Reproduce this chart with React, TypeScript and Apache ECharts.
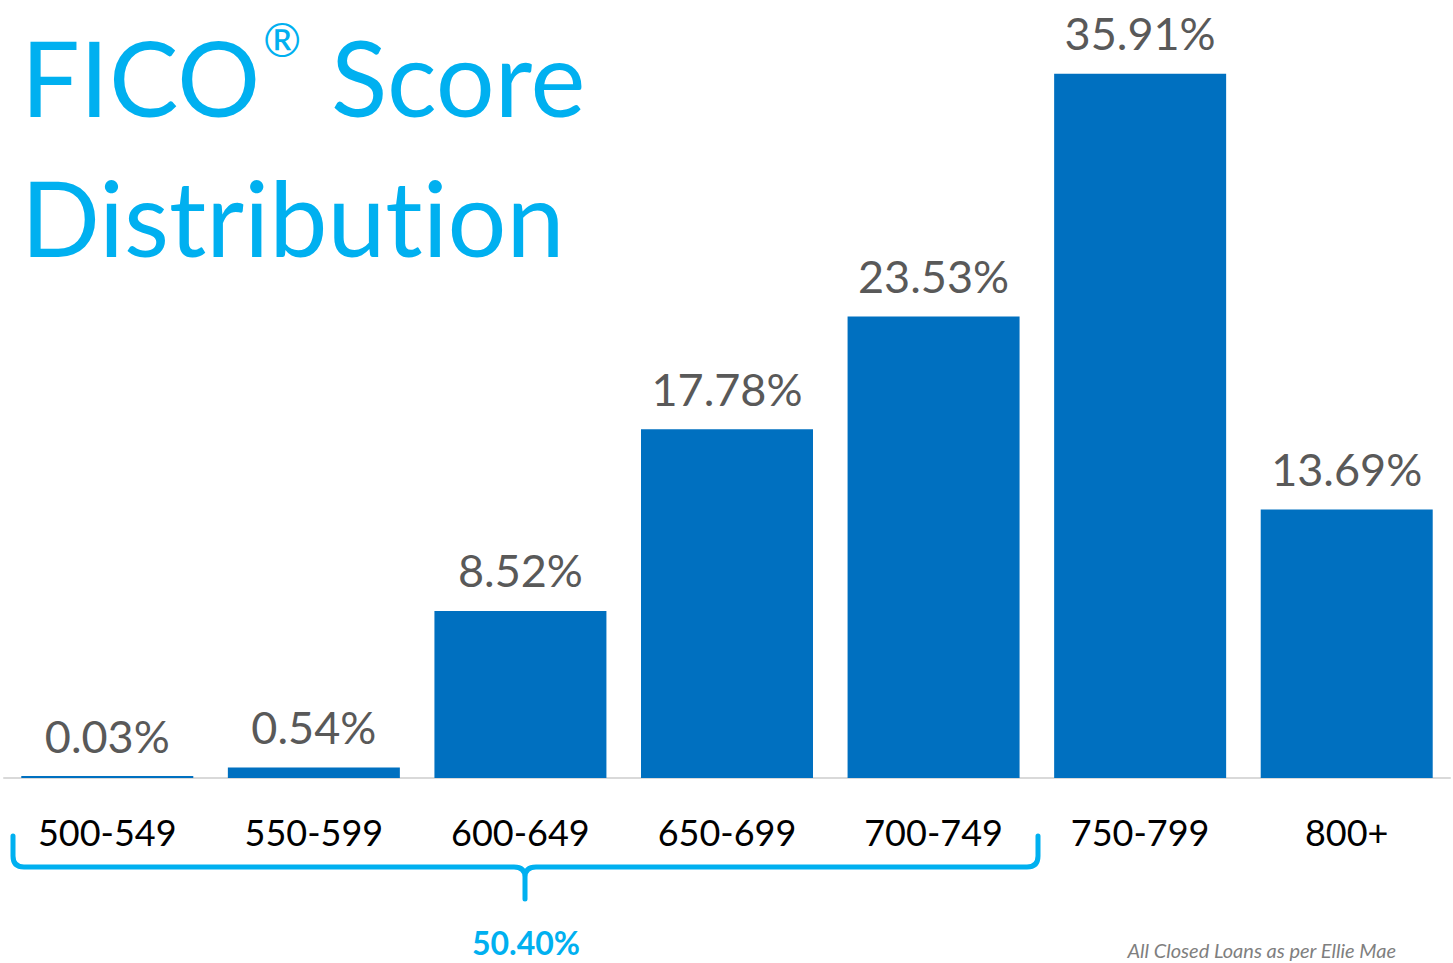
import React, { useEffect, useRef } from "react";
import * as echarts from "echarts";

const categories = ["500-549", "550-599", "600-649", "650-699", "700-749", "750-799", "800+"];
const shares = [0.03, 0.54, 8.52, 17.78, 23.53, 35.91, 13.69];
const titleWord1 = "FICO";
const titleMark = "®";
const titleWord2 = "Score";
const titleLine2 = "Distribution";
const groupTotal = "50.40%";
const sourceNote = "All Closed Loans as per Ellie Mae";

const FONT = "Lato, 'Open Sans', sans-serif";
const TITLE_BLUE = "#00B0F0";
const BAR_BLUE = "#0070C0";

const BRACE_D =
  "M13,836 L13,856 Q13,867 24,867 L514,867 Q525,867 525,877 L525,899 M525,877 Q525,867 536,867 L1027,867 Q1038,867 1038,856 L1038,836";

let registered = false;
function ensureShapes() {
  if (registered) return;
  echarts.graphic.registerShape("brace", echarts.graphic.extendPath(BRACE_D, {}));
  registered = true;
}

export default function App() {
  const ref = useRef<HTMLDivElement>(null);

  useEffect(() => {
    ensureShapes();
    const chart = echarts.init(ref.current!, undefined, { renderer: "svg" });
    chart.setOption({
      animation: false,
      grid: { left: 4, right: 3, top: 72, bottom: 185, containLabel: false },
      xAxis: {
        type: "category",
        data: categories,
        axisTick: { show: false },
        axisLine: { lineStyle: { color: "#D9D9D9", width: 2 } },
        axisLabel: {
          interval: 0,
          fontSize: 36,
          lineHeight: 36,
          color: "#000000",
          fontFamily: FONT,
          margin: 36,
        },
      },
      yAxis: { type: "value", min: 0, max: 36, show: false },
      series: [
        {
          type: "bar",
          data: shares,
          barWidth: 172,
          barMinHeight: 2,
          itemStyle: { color: BAR_BLUE },
          label: {
            show: true,
            position: "top",
            distance: 18,
            fontSize: 45,
            color: "#595959",
            fontFamily: FONT,
            formatter: (p: any) => Number(p.value).toFixed(2) + "%",
          },
        },
      ],
      graphic: [
        {
          type: "text",
          x: 21,
          y: 76,
          style: { text: titleWord1, fontSize: 104, fontFamily: FONT, fill: TITLE_BLUE, verticalAlign: "middle" },
        },
        {
          type: "text",
          x: 282,
          y: 39,
          style: { text: titleMark, fontSize: 46, fontFamily: FONT, fill: TITLE_BLUE, align: "center", verticalAlign: "middle" },
        },
        {
          type: "text",
          x: 331,
          y: 76,
          style: { text: titleWord2, fontSize: 104, fontFamily: FONT, fill: TITLE_BLUE, verticalAlign: "middle" },
        },
        {
          type: "text",
          x: 21,
          y: 216,
          style: { text: titleLine2, fontSize: 104, fontFamily: FONT, fill: TITLE_BLUE, verticalAlign: "middle" },
        },
        {
          type: "brace",
          x: 0,
          y: 0,
          style: { stroke: TITLE_BLUE, lineWidth: 5, fill: "none", lineCap: "round", lineJoin: "round" },
        },
        {
          type: "text",
          x: 526,
          y: 942,
          style: { text: groupTotal, fontSize: 32, fontWeight: "bold", fontFamily: FONT, fill: TITLE_BLUE, align: "center", verticalAlign: "middle" },
        },
        {
          type: "text",
          x: 1396,
          y: 950,
          style: { text: sourceNote, fontSize: 20, fontStyle: "italic", fontFamily: FONT, fill: "#7F7F7F", align: "right", verticalAlign: "middle" },
        },
      ],
    });
    return () => chart.dispose();
  }, []);

  return (
    <div
      ref={ref}
      style={{
        position: "absolute",
        left: 0,
        top: 0,
        width: 1453,
        height: 963,
        background: "#ffffff",
        fontVariantLigatures: "none",
      }}
    />
  );
}
